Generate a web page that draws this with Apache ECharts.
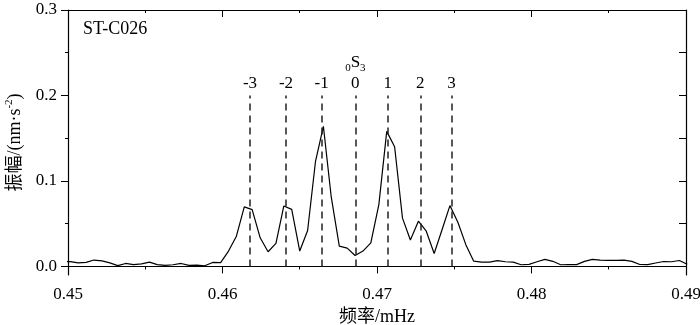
<!DOCTYPE html>
<html>
<head>
<meta charset="utf-8">
<script src="https://cdn.jsdelivr.net/npm/echarts@6/dist/echarts.min.js"></script>
<style>
html,body{margin:0;padding:0;background:#fff;}
#main{width:700px;height:325px;}
</style>
</head>
<body>
<div id="main"></div>
<script>
// frequency samples (mHz)
var freqs = [
  0.44964, 0.45015, 0.45066, 0.45117, 0.45168, 0.45220, 0.45271, 0.45322, 0.45373, 0.45424,
  0.45476, 0.45527, 0.45578, 0.45629, 0.45680, 0.45732, 0.45783, 0.45834, 0.45885, 0.45936,
  0.45988, 0.46039, 0.46090, 0.46141, 0.46192, 0.46244, 0.46295, 0.46346, 0.46397, 0.46448,
  0.46500, 0.46551, 0.46602, 0.46653, 0.46704, 0.46756, 0.46807, 0.46858, 0.46909, 0.46960,
  0.47012, 0.47063, 0.47114, 0.47165, 0.47216, 0.47268, 0.47319, 0.47370, 0.47421, 0.47472,
  0.47524, 0.47575, 0.47626, 0.47677, 0.47728, 0.47780, 0.47831, 0.47882, 0.47933, 0.47984,
  0.48036, 0.48087, 0.48138, 0.48189, 0.48240, 0.48292, 0.48343, 0.48394, 0.48445, 0.48496,
  0.48548, 0.48599, 0.48650, 0.48701, 0.48752, 0.48804, 0.48855, 0.48906, 0.48957, 0.49008
];
// amplitude nm/s^2
var amps = [
  0.0055, 0.0057, 0.0042, 0.0047, 0.0075, 0.0065, 0.0042, 0.0010, 0.0035, 0.0022,
  0.0030, 0.0050, 0.0022, 0.0012, 0.0020, 0.0035, 0.0012, 0.0015, 0.0008, 0.0047,
  0.0045, 0.0180, 0.0354, 0.0697, 0.0665, 0.0335, 0.0172, 0.0270, 0.0708, 0.0668,
  0.0180, 0.0420, 0.1230, 0.1640, 0.0810, 0.0237, 0.0215, 0.0128, 0.0180, 0.0276,
  0.0724, 0.1580, 0.1400, 0.0565, 0.0310, 0.0529, 0.0412, 0.0152, 0.0430, 0.0712,
  0.0515, 0.0255, 0.0062, 0.0050, 0.0050, 0.0068, 0.0055, 0.0050, 0.0020, 0.0025,
  0.0055, 0.0082, 0.0060, 0.0020, 0.0021, 0.0021, 0.0060, 0.0082, 0.0075, 0.0070,
  0.0070, 0.0073, 0.0060, 0.0023, 0.0022, 0.0040, 0.0058, 0.0055, 0.0070, 0.0025
];
// singlet positions of 0S3 (m = -3..3)
var modeFreqs = [0.46178, 0.46411, 0.46642, 0.46860, 0.47069, 0.47280, 0.47483];
var modeLabels = ['-3', '-2', '-1', '0', '1', '2', '3'];
var modeTop = 0.2;

var yTicks = [0, 0.1, 0.2, 0.3];
var yMinor = [0.05, 0.15, 0.25];
var yRight = [0, 0.05, 0.1, 0.15, 0.2, 0.25, 0.3];

var serif = '"Liberation Serif", "Noto Sans CJK SC", serif';

var lineData = [];
for (var i = 0; i < freqs.length; i++) {
  lineData.push([freqs[i], amps[i]]);
}

var markData = [];
for (var i = 0; i < modeFreqs.length; i++) {
  var lbl;
  if (modeLabels[i] == '0') {
    lbl = '{sub|0}{s|S}{sub|3}\n{n|0}';
  } else {
    lbl = '{n|' + modeLabels[i] + '}';
  }
  markData.push([
    {coord: [modeFreqs[i], 0]},
    {coord: [modeFreqs[i], modeTop], label: {formatter: lbl}}
  ]);
}

var chart = echarts.init(document.getElementById('main'));
var option = {
  animation: false,
  textStyle: {fontFamily: serif, color: '#000'},
  grid: {left: 68, right: 14, top: 10, bottom: 50, containLabel: false, outerBoundsMode: 'none'},
  xAxis: [
    {
      type: 'value', min: 0.45, max: 0.49, interval: 0.01,
      name: '频率/mHz', nameLocation: 'middle', nameGap: 31,
      nameTextStyle: {fontFamily: serif, fontSize: 18, color: '#000'},
      axisLine: {lineStyle: {color: '#000', width: 1.2}},
      axisTick: {length: 7, lineStyle: {color: '#000'}},
      minorTick: {show: true, splitNumber: 2, length: 3, lineStyle: {color: '#000'}},
      axisLabel: {
        fontFamily: serif, fontSize: 17, color: '#000', margin: 11,
        formatter: function (v) { return v.toFixed(2); }
      },
      splitLine: {show: false}
    },
    {
      type: 'value', position: 'top', min: 0.45, max: 0.49, interval: 0.01,
      axisLine: {onZero: false, lineStyle: {color: '#000', width: 1.2}},
      axisTick: {inside: true, length: 7, lineStyle: {color: '#000'}},
      minorTick: {show: true, splitNumber: 2, length: 3, lineStyle: {color: '#000'}},
      axisLabel: {show: false},
      splitLine: {show: false}
    }
  ],
  yAxis: [
    {
      type: 'value', min: -0.01, max: 0.3, position: 'left',
      name: '振幅/(nm·s{sup|-2})', nameLocation: 'middle', nameGap: 42, nameRotate: 90,
      nameTextStyle: {
        fontFamily: serif, fontSize: 18, color: '#000',
        rich: {sup: {fontSize: 11, fontFamily: serif, color: '#000', verticalAlign: 'top', lineHeight: 22}}
      },
      axisLine: {onZero: false, lineStyle: {color: '#000', width: 1.2}},
      axisTick: {length: 7, customValues: yTicks, lineStyle: {color: '#000'}},
      axisLabel: {
        fontFamily: serif, fontSize: 17, color: '#000', margin: 11,
        customValues: yTicks,
        formatter: function (v) { return v.toFixed(1); }
      },
      splitLine: {show: false}
    },
    {
      type: 'value', min: -0.01, max: 0.3, position: 'left',
      axisLine: {show: false, onZero: false},
      axisTick: {length: 3, customValues: yMinor, lineStyle: {color: '#000'}},
      axisLabel: {show: false, customValues: yMinor},
      splitLine: {show: false}
    },
    {
      type: 'value', min: -0.01, max: 0.3, position: 'right',
      axisLine: {show: true, onZero: false, lineStyle: {color: '#000', width: 1.2}},
      axisTick: {inside: true, length: 7, customValues: yRight, lineStyle: {color: '#000'}},
      axisLabel: {show: false, customValues: yRight},
      splitLine: {show: false}
    }
  ],
  graphic: [
    {
      type: 'text', left: 83, top: 20,
      style: {text: 'ST-C026', font: '18px ' + serif, fill: '#000'}
    }
  ],
  series: [
    {
      type: 'line',
      data: lineData,
      showSymbol: false,
      clip: true,
      lineStyle: {color: '#000', width: 1.2},
      markLine: {
        silent: true,
        symbol: 'none',
        lineStyle: {color: '#222', width: 1.5, type: [7, 5]},
        label: {
          show: true, position: 'end', distance: 2,
          color: '#000',
          rich: {
            n: {fontFamily: serif, fontSize: 17, color: '#000', lineHeight: 20},
            s: {fontFamily: serif, fontSize: 17, color: '#000', lineHeight: 22},
            sub: {fontFamily: serif, fontSize: 11, color: '#000', verticalAlign: 'bottom', lineHeight: 16}
          }
        },
        data: markData
      }
    }
  ]
};
chart.setOption(option);
</script>
</body>
</html>
